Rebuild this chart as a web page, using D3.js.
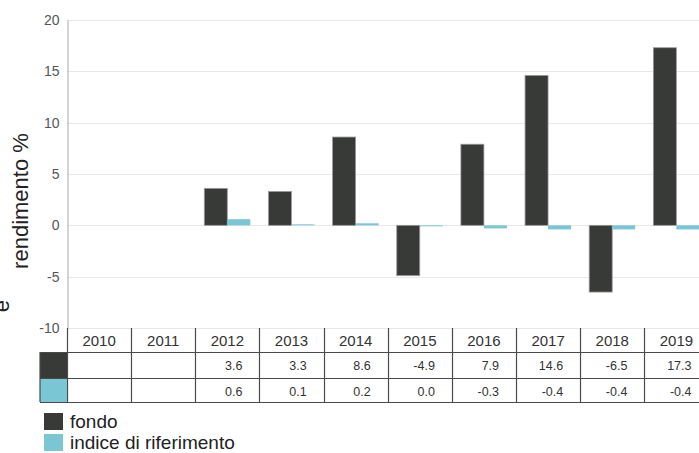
<!DOCTYPE html>
<html>
<head>
<meta charset="utf-8">
<script src="https://cdn.jsdelivr.net/npm/d3@7"></script>
<style>
  body { margin: 0; background: #fff; overflow: hidden; }
  text { font-family: "Liberation Sans", Arial, sans-serif; }
</style>
</head>
<body>
<div id="chart"></div>
<script>
var years = ["2010", "2011", "2012", "2013", "2014", "2015", "2016", "2017", "2018", "2019"];
var fondo = [null, null, 3.6, 3.3, 8.6, -4.9, 7.9, 14.6, -6.5, 17.3];
var indice = [null, null, 0.6, 0.1, 0.2, 0.0, -0.3, -0.4, -0.4, -0.4];
var seriesNames = ["fondo", "indice di riferimento"];
var colors = ["#383a37", "#7ac6d4"];
var yTicks = [-10, -5, 0, 5, 10, 15, 20];

var width = 699, height = 453;
var plotLeft = 67, plotTop = 20, plotBottom = 328;

var svg = d3.select("#chart").append("svg")
    .attr("width", width)
    .attr("height", height);

var x0 = d3.scaleBand().domain(years).range([plotLeft, plotLeft + 64.15 * years.length]);
var x1 = d3.scaleBand().domain([0, 1]).range([9, 55]);
var y = d3.scaleLinear().domain([-10, 20]).range([plotBottom, plotTop]);

// grid
svg.append("g").selectAll("line")
   .data(yTicks).enter()
   .append("line")
   .attr("x1", plotLeft).attr("x2", width)
   .attr("y1", function(d) { return Math.round(y(d)) + 0.5; })
   .attr("y2", function(d) { return Math.round(y(d)) + 0.5; })
   .attr("stroke", "#e8e8e8");

var yAxis = d3.axisLeft(y).tickValues(yTicks).tickSize(0).tickPadding(8)
    .tickFormat(function(d) { return String(d); });
var yy = svg.append("g")
    .attr("transform", "translate(" + (plotLeft + 0.5) + ",0)")
    .call(yAxis);
yy.select(".domain").attr("stroke", "#aaa");
yy.selectAll("text").attr("fill", "#555").style("font-size", "14px");

svg.append("text")
   .attr("transform", "translate(28," + ((plotTop + plotBottom) / 2 + 27) + ") rotate(-90)")
   .attr("text-anchor", "middle")
   .style("font-size", "22px")
   .attr("fill", "#222")
   .text("rendimento %");

svg.append("text")
   .attr("transform", "translate(9,306) rotate(-90)")
   .attr("text-anchor", "middle")
   .style("font-size", "22px")
   .attr("fill", "#222")
   .text("e");

// bars
var data = [fondo, indice];
data.forEach(function(vals, s) {
  svg.append("g").selectAll("rect")
     .data(years.map(function(yr, i) { return {year: yr, v: vals[i]}; })
                .filter(function(d) { return d.v !== null; }))
     .enter().append("rect")
     .attr("x", function(d) { return x0(d.year) + x1(s); })
     .attr("width", x1.bandwidth())
     .attr("y", function(d) { return y(Math.max(0, d.v)); })
     .attr("height", function(d) { return Math.max(Math.abs(y(d.v) - y(0)), d.v === 0 ? 1 : 0); })
     .attr("fill", colors[s])
     .attr("stroke", s === 0 ? "#999" : "none")
     .attr("stroke-width", 0.8);
});

// table
var rowsY = [328, 352, 378, 402];
var tbl = svg.append("g");
var lineColor = "#4a4a4a";
years.forEach(function(yr, i) {
  var xl = x0(yr);
  tbl.append("text")
     .attr("x", xl + x0.bandwidth() / 2)
     .attr("y", 346)
     .attr("text-anchor", "middle")
     .style("font-size", "15px")
     .attr("fill", "#333")
     .text(yr);
  [fondo, indice].forEach(function(vals, s) {
    if (vals[i] === null) return;
    tbl.append("text")
       .attr("x", xl + x0.bandwidth() - 17)
       .attr("y", rowsY[s + 1] + 18)
       .attr("text-anchor", "end")
       .style("font-size", "12.5px")
       .attr("fill", "#333")
       .text(vals[i].toFixed(1));
  });
});
// horizontal table lines
[352, 378, 402].forEach(function(yv) {
  tbl.append("line")
     .attr("x1", 40).attr("x2", width)
     .attr("y1", yv + 0.5).attr("y2", yv + 0.5)
     .attr("stroke", lineColor).attr("stroke-width", 1.2);
});
// vertical table lines
years.concat(["end"]).forEach(function(yr, i) {
  var xv = plotLeft + i * x0.step();
  tbl.append("line")
     .attr("x1", Math.round(xv) + 0.5).attr("x2", Math.round(xv) + 0.5)
     .attr("y1", 328).attr("y2", 402)
     .attr("stroke", lineColor).attr("stroke-width", 1.2);
});
// row swatches
colors.forEach(function(c, s) {
  tbl.append("rect")
     .attr("x", 40).attr("y", rowsY[s + 1] + 1)
     .attr("width", plotLeft - 40).attr("height", rowsY[s + 2] - rowsY[s + 1] - 1)
     .attr("fill", c);
});
tbl.append("line")
   .attr("x1", 40).attr("x2", 40)
   .attr("y1", 352).attr("y2", 402)
   .attr("stroke", lineColor).attr("stroke-width", 1.2);

// legend
var leg = svg.append("g").selectAll("g")
    .data(seriesNames).enter().append("g")
    .attr("transform", function(d, i) { return "translate(44," + (413 + i * 21) + ")"; });
leg.append("rect")
   .attr("width", 19).attr("height", 17)
   .attr("fill", function(d, i) { return colors[i]; });
leg.append("text")
   .attr("x", 26).attr("y", 15)
   .style("font-size", "19px")
   .attr("fill", "#222")
   .text(function(d) { return d; });
</script>
</body>
</html>
